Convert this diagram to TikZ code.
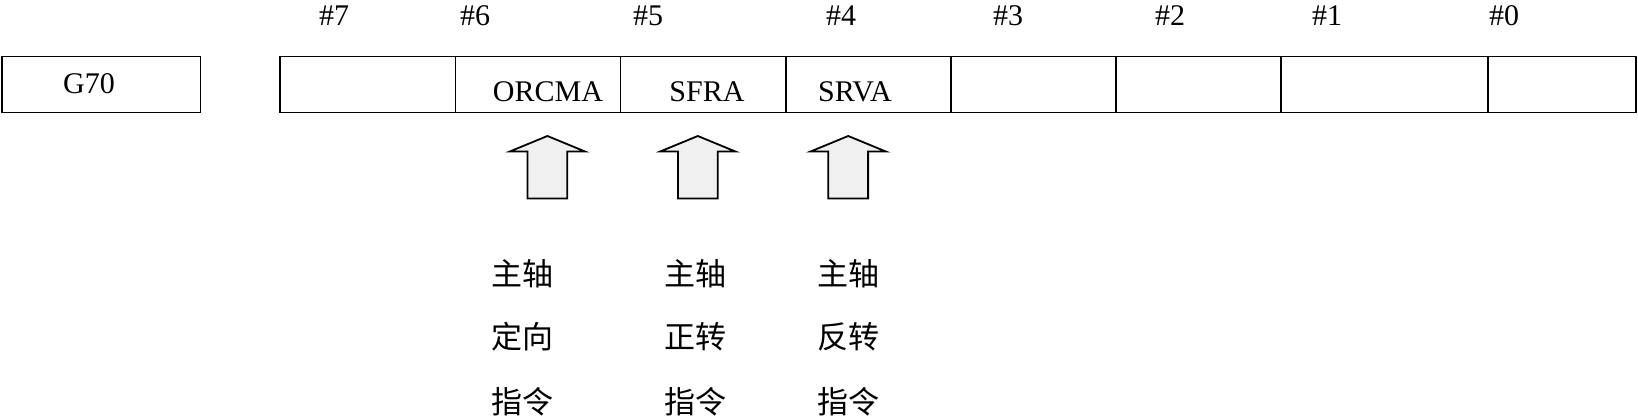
\documentclass[tikz,border=0pt]{standalone}
\usepackage{fontspec}
\setmainfont{Liberation Serif}
\newfontfamily\cjk{Noto Sans CJK SC}
\begin{document}
\begin{tikzpicture}[x=0.5pt,y=-0.5pt,
  box/.style={draw,line width=0.9pt},
  lbl/.style={inner sep=0pt,font=\fontsize{15}{18}\selectfont},
  cn/.style={inner sep=0pt,anchor=west,font=\cjk\fontsize{15.5}{18}\selectfont},
  uparrow/.style={draw,line width=0.9pt,fill=gray!12,line join=miter}]
\useasboundingbox (0,0) rectangle (1638,416);
\clip (0,0) rectangle (1638,416);
% G70 box
\draw[box] (2,56.5) rectangle (200.5,112.5);
\node[lbl] (g70) at (89,84) {G70};
% register
\draw[box] (280,56.5) rectangle (1636,112.5);
\foreach \x in {455.5,620.5,786,951,1116,1281,1488}
  \draw[box] (\x,56.5) -- (\x,112.5);
% bit labels
\node[lbl] (b7) at (334,16) {\#7};
\node[lbl] (b6) at (475,16) {\#6};
\node[lbl] (b5) at (648,16) {\#5};
\node[lbl] (b4) at (841,16) {\#4};
\node[lbl] (b3) at (1008,16) {\#3};
\node[lbl] (b2) at (1170,16) {\#2};
\node[lbl] (b1) at (1327,16) {\#1};
\node[lbl] (b0) at (1504,16) {\#0};
% signal names
\node[lbl] (orcma) at (548,92) {ORCMA};
\node[lbl] (sfra) at (707,92) {SFRA};
\node[lbl] (srva) at (855,92) {SRVA};
% arrows
\foreach \c in {547.4,697.8,848.2}
  \draw[uparrow] (\c,136) -- (\c+37.6,151.5) -- (\c+19.9,151.5) -- (\c+19.9,198.5)
    -- (\c-19.9,198.5) -- (\c-19.9,151.5) -- (\c-37.6,151.5) -- cycle;
% Chinese descriptions
\node[cn] (a1) at (491,274) {主轴};
\node[cn] (a2) at (491,337) {定向};
\node[cn] (a3) at (491,402) {指令};
\node[cn] (c1) at (664,274) {主轴};
\node[cn] (c2) at (664,337) {正转};
\node[cn] (c3) at (664,402) {指令};
\node[cn] (d1) at (817,274) {主轴};
\node[cn] (d2) at (817,337) {反转};
\node[cn] (d3) at (817,402) {指令};
\end{tikzpicture}
\end{document}
